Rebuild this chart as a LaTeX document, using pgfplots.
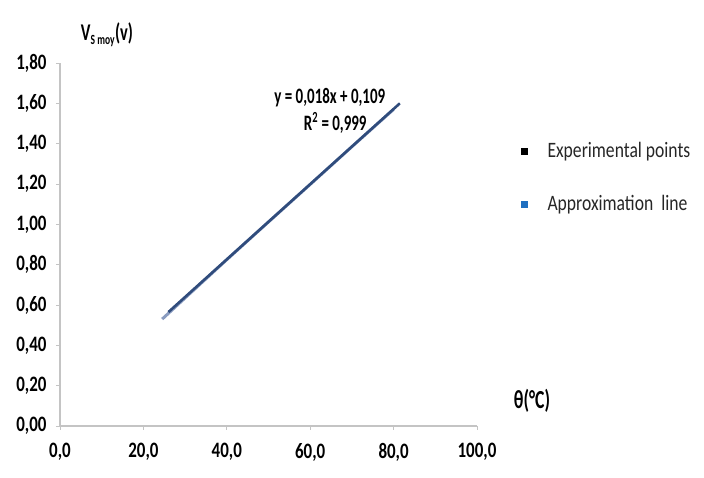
\documentclass[border=0pt]{standalone}
\usepackage{pgfplots}
\pgfplotsset{compat=1.18}
\usepackage{fontspec}
\setmainfont{Carlito}[FakeStretch=0.8]
\newfontfamily\tickfont{Carlito Bold}[FakeStretch=0.77]
\newfontfamily\boldcond{Carlito Bold}[FakeStretch=0.68]
\definecolor{fitblue}{HTML}{304C7C}
\definecolor{ptgray}{HTML}{8A9CC0}
\definecolor{legblue}{HTML}{1F6FC0}
\definecolor{axgray}{HTML}{C4C4C4}

\begin{document}
\begin{tikzpicture}[x=1pt,y=1pt]
\path[use as bounding box] (0,0) rectangle (704,478);
\begin{axis}[
  at={(60pt,52pt)}, anchor=south west,
  scale only axis, width=417pt, height=363pt,
  xmin=0, xmax=100, ymin=0, ymax=1.8,
  axis x line*=bottom, axis y line*=left,
  axis line style={axgray, line width=1.5pt},
  xtick={0,20,...,100}, ytick={0,0.2,...,1.8},
  tick style={axgray, line width=0.8pt},
  tick align=outside, major tick length=4pt,
  /pgf/number format/assume math mode=true,
  /pgf/number format/use comma,
  /pgf/number format/fixed zerofill,
  xticklabel={\pgfmathprintnumber[precision=1]{\tick}},
  yticklabel={\pgfmathprintnumber[precision=2]{\tick}},
  ticklabel style={font=\tickfont\fontsize{22}{22}\selectfont, text=black},
  xticklabel style={yshift=-10pt},
  yticklabel style={xshift=-6pt},
  clip=false,
]
% measured points
\addplot[ptgray, line width=3pt, mark=none]
  coordinates {(24.5,0.530) (30,0.635) (40,0.825) (50,1.012) (60,1.198) (70,1.385) (80,1.57)};
% least-squares line
\addplot[fitblue, line width=2.6pt]
  coordinates {(26,0.565) (81.5,1.600)};
\node[anchor=center, font=\boldcond\fontsize{22}{22}\selectfont] at (axis cs:64.7,1.626) {y = 0,018x + 0,109};
\node[anchor=center, font=\boldcond\fontsize{22}{22}\selectfont] at (axis cs:66.0,1.502) {R\textsuperscript{2} = 0,999};
\end{axis}
% axis names
\node[font=\boldcond\fontsize{24}{24}\selectfont, anchor=center] at (107,443) {V\textsubscript{\fontsize{14}{14}\selectfont S moy}(v)};
\node[font=\boldcond\fontsize{26}{26}\selectfont, anchor=center] at (532,77) {θ(°C)};
% legend
\fill[black] (521,322.5) rectangle (528,329.5);
\node[anchor=west, font=\fontsize{22}{22}\selectfont, text=black!85] at (544,326) {Experimental points};
\fill[legblue] (521,269.5) rectangle (528,276.5);
\node[anchor=west, font=\fontsize{22}{22}\selectfont, text=black!85] at (544,273) {Approximation\ \ line};
\end{tikzpicture}
\end{document}
